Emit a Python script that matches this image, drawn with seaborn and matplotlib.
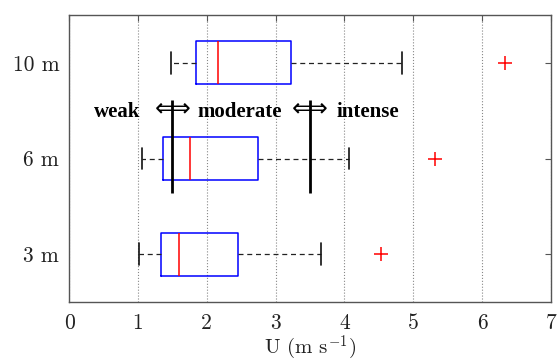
import matplotlib
matplotlib.use("Agg")
import matplotlib.pyplot as plt
import seaborn as sns
import pandas as pd

# box statistics (U in m s^-1)
heights = ["3 m", "6 m", "10 m"]
whisker_lo = [1.02, 1.06, 1.48]
q1 = [1.33, 1.36, 1.84]
median = [1.59, 1.75, 2.17]
q3 = [2.46, 2.74, 3.22]
whisker_hi = [3.66, 4.06, 4.84]
outliers = [4.53, 5.31, 6.33]

# regime thresholds
thresholds = [1.5, 3.5]
regimes = ["weak", "moderate", "intense"]

sns.set_style("white")
plt.rcParams["mathtext.fontset"] = "cm"

fig = plt.figure(figsize=(5.57, 3.64), dpi=100)
ax = fig.add_axes([0.124, 0.170, 0.865, 0.789])

stats = []
for i, h in enumerate(heights):
    stats.append({
        "label": h,
        "whislo": whisker_lo[i],
        "q1": q1[i],
        "med": median[i],
        "q3": q3[i],
        "whishi": whisker_hi[i],
        "fliers": [],
    })

ax.bxp(stats, positions=range(len(heights)), vert=False, widths=0.45,
       showfliers=False,
       boxprops=dict(color="blue", linewidth=1.1),
       medianprops=dict(color="red", linewidth=1.1),
       whiskerprops=dict(color="#222222", linestyle=(0, (4, 3)), linewidth=0.9),
       capprops=dict(color="#111111", linewidth=1.2))

out_df = pd.DataFrame({"U": outliers, "pos": range(len(heights))})
sns.scatterplot(data=out_df, x="U", y="pos", marker="+", color="red",
                s=90, linewidth=1.1, ax=ax, zorder=5)

# threshold lines with double arrows
for t in thresholds:
    ax.vlines(t, 0.64, 1.61, color="black", linewidth=2, zorder=6)
    ax.text(t, 1.52, "\u27fa", ha="center", va="center", fontsize=18,
            family=["DejaVu Sans"], color="black", zorder=7)

text_y = 1.49
bold = dict(va="center", fontsize=15, fontweight="bold",
            family="Liberation Serif", color="black")
ax.text(1.03, text_y, regimes[0], ha="right", **bold)
ax.text(1.86, text_y, regimes[1], ha="left", **bold)
ax.text(3.88, text_y, regimes[2], ha="left", **bold)

ax.set_xlim(0, 7)
ax.set_ylim(-0.5, 2.5)
ax.set_xticks(range(8))
ax.set_yticks(range(len(heights)))
ax.set_yticklabels(heights)
ax.set_ylabel("")
ax.set_xlabel(r"U (m s$^{\mathregular{-1}}$)", fontsize=15, family="cmr10",
              labelpad=1, color="#222222")
for lab in ax.get_xticklabels() + ax.get_yticklabels():
    lab.set_family("cmr10")
    lab.set_fontsize(15.5)
    lab.set_color("#222222")

ax.grid(axis="x", linestyle=":", color="#888888", linewidth=0.8)
ax.grid(axis="y", visible=False)
ax.tick_params(axis="x", pad=8)
ax.tick_params(axis="y", pad=7)
ax.tick_params(direction="in", top=True, right=True, length=4,
               color="#555555", width=0.8)
for s in ax.spines.values():
    s.set_visible(True)
    s.set_color("#555555")
    s.set_linewidth(1.0)

fig.savefig("out.png", dpi=100)
